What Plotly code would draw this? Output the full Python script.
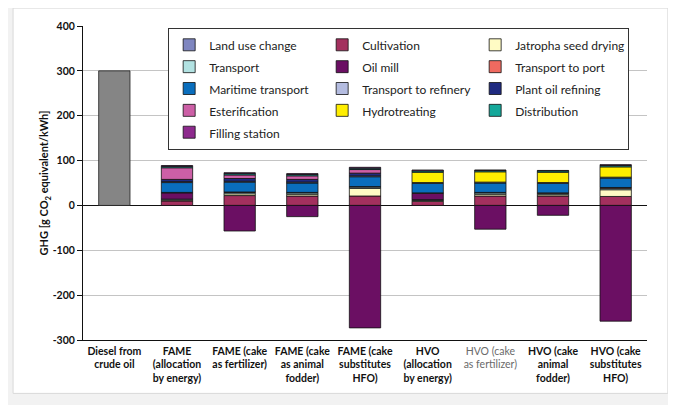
import plotly.graph_objects as go

categories = [
    "<b>Diesel from<br>crude oil</b>",
    "<b>FAME<br>(allocation<br>by energy)</b>",
    "<b>FAME (cake<br>as fertilizer)</b>",
    "<b>FAME (cake<br>as animal<br>fodder)</b>",
    "<b>FAME (cake<br>substitutes<br>HFO)</b>",
    "<b>HVO<br>(allocation<br>by energy)</b>",
    "<span style='color:#6a6a6a'>HVO (cake<br>as fertilizer)</span>",
    "<b>HVO (cake<br>animal<br>fodder)</b>",
    "<b>HVO (cake<br>substitutes<br>HFO)</b>",
]

diesel = [300, None, None, None, None, None, None, None, None]

stage_names = [
    "Land use change", "Cultivation", "Jatropha seed drying",
    "Transport", "Oil mill", "Transport to port",
    "Maritime transport", "Transport to refinery", "Plant oil refining",
    "Esterification", "Hydrotreating", "Distribution",
    "Filling station",
]

land_use_change      = [None, None, None, None, None, None, None, None, None]
cultivation          = [None, 10, 22, 21, 21, 9, 21, 21, 20]
jatropha_seed_drying = [None, 2, 4, 4, 17, 2, 4, 3, 15]
transport            = [None, 2, 3, 3, 3, 2, 3, 3, 3]
oil_mill             = [None, 14, -57, -25, -273, 14, -53, -22, -258]
transport_to_port    = [None, 1, 1, 1, 1, 1, 1, 1, 2]
maritime_transport   = [None, 22, 22, 21, 22, 21, 21, 21, 21]
transport_to_refinery= [None, 2, 2, 2, 2, 2, 2, 2, 2]
plant_oil_refining   = [None, 5, 6, 6, 6, None, None, None, None]
esterification       = [None, 26, 8, 8, 8, None, None, None, None]
hydrotreating        = [None, None, None, None, None, 23, 23, 23, 23]
distribution         = [None, 3, 3, 3, 3, 3, 3, 3, 3]
filling_station      = [None, 2, 2, 2, 2, 2, 1, 1, 2]

stage_values = [
    land_use_change, cultivation, jatropha_seed_drying, transport, oil_mill,
    transport_to_port, maritime_transport, transport_to_refinery,
    plant_oil_refining, esterification, hydrotreating, distribution,
    filling_station,
]

stage_colors = [
    "#7F86C0", "#A3305E", "#FFFBC4", "#B2E2E2", "#6B0F63", "#F06A60",
    "#0A6EBD", "#B4BCE0", "#1F2A80", "#CC5FA6", "#FFEE00", "#14A89A",
    "#8E2A8E",
]

y_ticks = [-300, -200, -100, 0, 100, 200, 300, 400]
y_range = [-300, 400]

x_idx = list(range(len(categories)))

fig = go.Figure()

fig.add_trace(go.Bar(
    x=x_idx, y=diesel, name="Diesel", showlegend=False,
    marker=dict(color="#858585", line=dict(color="#222", width=0.8)),
    width=0.5,
))

for name, vals, col in zip(stage_names, stage_values, stage_colors):
    fig.add_trace(go.Bar(
        x=x_idx, y=vals,
        name=f"<span style='font-size:12px'>{name}</span>",
        marker=dict(color=col, line=dict(color="#111", width=0.8)),
        width=0.5,
    ))

zero_pos = (0 - y_range[0]) / (y_range[1] - y_range[0])

fig.update_layout(
    width=668, height=397,
    barmode="relative",
    paper_bgcolor="#F2F2F2",
    plot_bgcolor="white",
    margin=dict(l=75, r=29, t=18, b=65),
    font=dict(family="Lato, 'Open Sans', sans-serif", size=11, color="#111"),
    legend=dict(
        orientation="h",
        x=0.151, y=0.994, xanchor="left", yanchor="top",
        bgcolor="white", bordercolor="#333", borderwidth=1,
        entrywidth=108, entrywidthmode="pixels",
        font=dict(size=14.5, color="#222"),
        traceorder="normal",
        itemwidth=30,
    ),
    xaxis=dict(
        range=[-0.5, len(categories) - 0.5],
        tickvals=x_idx, ticktext=categories,
        showline=True, linecolor="#111", linewidth=1,
        ticks="", showgrid=False, zeroline=False,
        tickfont=dict(size=10.5, color="#111"),
        ticklabelstandoff=1,
    ),
    xaxis2=dict(
        overlaying="x", anchor="free", position=zero_pos,
        range=[-0.5, len(categories) - 0.5],
        tickvals=[i + 0.5 for i in x_idx[:-1]],
        showticklabels=False, ticks="outside", ticklen=4,
        tickcolor="#111", showline=True, linecolor="#111", linewidth=1.2,
        showgrid=False, zeroline=False,
    ),
    yaxis=dict(
        range=y_range, tickvals=y_ticks,
        ticktext=[f"<b>{v}</b>" for v in y_ticks],
        showline=True, linecolor="#111", linewidth=1,
        ticks="outside", ticklen=5, tickcolor="#111",
        gridcolor="#C4C4C4", gridwidth=1,
        zeroline=True, zerolinecolor="#111", zerolinewidth=1,
        tickfont=dict(size=10.5, color="#111"),
        title=dict(text="<b>GHG [g CO<sub>2</sub> equivalent/kWh]</b>",
                   font=dict(size=11, color="#111"), standoff=0),
    ),
    yaxis2=dict(
        overlaying="y", side="right", range=y_range,
        showline=True, linecolor="#BDBDBD", linewidth=1,
        showticklabels=False, ticks="", showgrid=False, zeroline=False,
    ),
    shapes=[dict(
        type="rect", xref="paper", yref="paper",
        x0=-0.124, x1=1.037, y0=-0.17, y1=1.057,
        fillcolor="white", line=dict(color="#D8D8D8", width=1),
        layer="below",
    )],
)

fig.write_html("out.html")
